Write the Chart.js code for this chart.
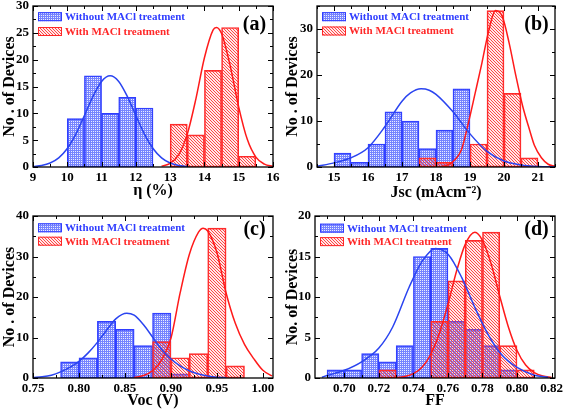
<!DOCTYPE html>
<html>
<head>
<meta charset="utf-8">
<script src="https://cdn.jsdelivr.net/npm/chart.js@4.4.0/dist/chart.umd.min.js"></script>
<style>
  html, body { margin: 0; padding: 0; background: #fff; }
  #wrap { position: relative; width: 567px; height: 411px; }
  .panel { position: absolute; }
</style>
</head>
<body>
<div id="wrap">
  <div class="panel" style="left:0;top:0;width:283px;height:205px"><canvas id="pa"></canvas></div>
  <div class="panel" style="left:283px;top:0;width:284px;height:205px"><canvas id="pb"></canvas></div>
  <div class="panel" style="left:0;top:205px;width:283px;height:206px"><canvas id="pc"></canvas></div>
  <div class="panel" style="left:283px;top:205px;width:284px;height:206px"><canvas id="pd"></canvas></div>
</div>
<script>
// ---- (a) efficiency ----
const effBinsWithout = [10.25, 10.75, 11.25, 11.75, 12.25];
const effCountWithout = [9, 17, 10, 13, 11];
const effBinsWith = [13.25, 13.75, 14.25, 14.75, 15.25];
const effCountWith = [8, 6, 18, 26, 2];
const effFitWithoutX = [9, 9.25, 9.5, 9.75, 10, 10.25, 10.5, 10.75, 11, 11.25, 11.5, 11.75, 12, 12.25, 12.5, 12.75, 13, 13.25, 13.5];
const effFitWithoutY = [0.1, 0.29, 0.75, 1.71, 3.45, 6.13, 9.58, 13.17, 15.95, 17, 15.95, 13.17, 9.58, 6.13, 3.45, 1.71, 0.75, 0.29, 0.1];
const effFitWithX = [12.75, 13, 13.25, 13.5, 13.75, 14, 14.25, 14.35, 14.5, 14.75, 15, 15.25, 15.5, 15.75, 16];
const effFitWithY = [0.16, 0.68, 2.31, 6.13, 12.66, 20.35, 25.5, 26, 24.86, 18.9, 11.17, 5.15, 1.85, 0.52, 0.11];
const effTicksX = [9, 10, 11, 12, 13, 14, 15, 16];
const effTicksY = [0, 5, 10, 15, 20, 25, 30];

// ---- (b) Jsc ----
const jscBinsWithout = [15.25, 15.75, 16.25, 16.75, 17.25, 17.75, 18.25, 18.75];
const jscCountWithout = [3, 1, 5, 12, 10, 4, 8, 17];
const jscBinsWith = [17.75, 18.25, 19.25, 19.75, 20.25, 20.75];
const jscCountWith = [2, 1, 5, 34, 16, 2];
const jscFitWithoutX = [14.5, 15, 15.5, 16, 16.5, 17, 17.25, 17.56, 17.8, 18, 18.5, 19, 19.5, 20, 20.5, 21, 21.5];
const jscFitWithoutY = [0.15, 0.9, 2.0, 4.2, 8.8, 14.3, 16.1, 17, 16.7, 15.8, 12, 7.2, 3.4, 1.3, 0.45, 0.12, 0.03];
const jscFitWithX = [18.1, 18.2, 18.45, 18.75, 18.95, 19.15, 19.35, 19.55, 19.75, 19.95, 20.15, 20.35, 20.55, 20.75, 20.9, 21.1, 21.3, 21.5];
const jscFitWithY = [0.05, 0.15, 0.9, 3.8, 9.5, 16, 22.6, 29.6, 34, 32.7, 27, 19.8, 13.2, 8.1, 4.6, 2.0, 0.6, 0.15];
const jscTicksX = [15, 16, 17, 18, 19, 20, 21];
const jscTicksY = [0, 10, 20, 30];

// ---- (c) Voc ----
const vocBinsWithout = [0.79, 0.81, 0.83, 0.85, 0.87, 0.89, 0.91];
const vocCountWithout = [4, 5, 14, 12, 8, 16, 1];
const vocBinsWith = [0.89, 0.91, 0.93, 0.95, 0.97];
const vocCountWith = [9, 5, 6, 37, 3];
const vocFitWithoutX = [0.75, 0.76, 0.77, 0.78, 0.79, 0.80, 0.81, 0.82, 0.83, 0.84, 0.852, 0.86, 0.87, 0.88, 0.89, 0.90, 0.91, 0.92, 0.93, 0.94, 0.95, 0.96];
const vocFitWithoutY = [0.1, 0.3, 0.7, 1.5, 2.6, 4.1, 6.2, 8.8, 11.8, 14.6, 16, 15.5, 13.2, 10.1, 7.0, 4.7, 3.0, 1.8, 1.0, 0.5, 0.2, 0.08];
const vocFitWithX = [0.86, 0.87, 0.88, 0.89, 0.90, 0.91, 0.92, 0.93, 0.935, 0.94, 0.95, 0.96, 0.97, 0.98, 0.99, 1.0, 1.01];
const vocFitWithY = [0.1, 0.6, 1.8, 4.5, 9.8, 21, 30.5, 36, 37, 36.3, 31, 21, 13.5, 8.3, 4.8, 1.9, 0.5];
const vocTicksX = [0.75, 0.80, 0.85, 0.90, 0.95, 1.00];
const vocTicksY = [0, 10, 20, 30, 40];

// ---- (d) FF ----
const ffBinsWithout = [0.695, 0.705, 0.715, 0.725, 0.735, 0.745, 0.755, 0.765, 0.775, 0.785, 0.795];
const ffCountWithout = [1, 1, 3, 2, 4, 15, 16, 7, 6, 4, 1];
const ffBinsWith = [0.725, 0.755, 0.765, 0.775, 0.785, 0.795, 0.805];
const ffCountWith = [1, 7, 12, 17, 18, 4, 1];
const ffFitWithoutX = [0.687, 0.69, 0.70, 0.71, 0.72, 0.728, 0.7375, 0.745, 0.7528, 0.7604, 0.768, 0.7756, 0.7832, 0.791, 0.80, 0.81, 0.818];
const ffFitWithoutY = [0.1, 0.3, 0.95, 2.0, 3.7, 6.3, 11.2, 14.4, 16, 15.2, 12.4, 8.7, 5.4, 2.9, 1.3, 0.35, 0.1];
const ffFitWithX = [0.725, 0.73, 0.735, 0.74, 0.745, 0.75, 0.755, 0.76, 0.765, 0.77, 0.7756, 0.78, 0.785, 0.79, 0.795, 0.80, 0.805, 0.81, 0.815, 0.82];
const ffFitWithY = [0.02, 0.06, 0.18, 0.53, 1.32, 2.9, 5.5, 9.1, 13.2, 16.5, 18, 17, 14.1, 10.1, 6.3, 3.4, 1.6, 0.66, 0.24, 0.07];
const ffTicksX = [0.70, 0.72, 0.74, 0.76, 0.78, 0.80, 0.82];
const ffTicksY = [0, 5, 10, 15, 20];

const legendLabels = ['Without MACl treatment', 'With MACl treatment'];

const BLUE = '#2f3dff';
const RED = '#ff2828';
const SERIF = '"Liberation Serif", "Times New Roman", serif';

function points(xs, ys) {
  return xs.map((x, i) => ({ x: x, y: ys[i] }));
}

function makePattern(kind) {
  const c = document.createElement('canvas');
  const g = c.getContext('2d');
  if (kind === 'check') {
    // fine blue grid with small light holes
    c.width = 2; c.height = 2;
    g.fillStyle = 'rgba(60,80,255,0.7)';
    g.fillRect(0, 0, 2, 2);
    g.clearRect(1, 1, 1, 1);
    g.fillStyle = 'rgba(170,180,255,0.25)';
    g.fillRect(1, 1, 1, 1);
  } else {
    c.width = 3; c.height = 3;
    g.fillStyle = 'rgba(255,140,140,0.2)';
    g.fillRect(0, 0, 3, 3);
    g.fillStyle = 'rgba(255,40,40,0.85)';
    for (let i = 0; i < 3; i++) g.fillRect(i, i, 1, 1);
  }
  return g.createPattern(c, 'repeat');
}

const bluePattern = makePattern('check');
const redPattern = makePattern('hatch');

/** ---------------- frame, inward ticks, legend, panel tag ---------------- **/
const panelDeco = {
  id: 'panelDeco',
  afterDraw(chart, args, opts) {
    const ctx = chart.ctx;
    const a = chart.chartArea;
    const xs = chart.scales.x, ys = chart.scales.y;

    function marks(scale) {
      const vals = scale.ticks.map(t => t.value);
      const step = vals[1] - vals[0];
      const out = vals.map(v => ({ v: v, len: 5 }));
      for (let v = vals[0] - step / 2; v <= scale.max + 1e-9; v += step) {
        if (v >= scale.min - 1e-9) out.push({ v: v, len: 3 });
      }
      return out;
    }
    function line(x1, y1, x2, y2) {
      ctx.beginPath(); ctx.moveTo(x1, y1); ctx.lineTo(x2, y2); ctx.stroke();
    }

    ctx.save();
    ctx.strokeStyle = '#000';
    ctx.lineWidth = 1;
    marks(xs).forEach(m => {
      const px = Math.round(xs.getPixelForValue(m.v)) + 0.5;
      line(px, a.bottom, px, a.bottom - m.len);
      line(px, a.top, px, a.top + m.len);
    });
    marks(ys).forEach(m => {
      const py = Math.round(ys.getPixelForValue(m.v)) + 0.5;
      line(a.left, py, a.left + m.len, py);
      line(a.right, py, a.right - m.len, py);
    });
    ctx.lineWidth = 1.3;
    ctx.strokeRect(a.left, a.top, a.right - a.left, a.bottom - a.top);

    // legend
    const rows = [
      { text: legendLabels[0], color: BLUE, fill: bluePattern },
      { text: legendLabels[1], color: RED, fill: redPattern }
    ];
    ctx.font = 'bold 11px ' + SERIF;
    ctx.textAlign = 'left';
    ctx.textBaseline = 'middle';
    rows.forEach((r, i) => {
      const y = opts.legendY[i];
      const bx = a.left + 5;
      ctx.fillStyle = '#fff';
      ctx.fillRect(bx, y - 4.5, 24, 9);
      ctx.fillStyle = r.fill;
      ctx.fillRect(bx, y - 4.5, 24, 9);
      ctx.strokeStyle = r.color;
      ctx.lineWidth = 1;
      ctx.strokeRect(bx + 0.5, y - 4, 23, 8);
      ctx.fillStyle = r.color;
      ctx.fillText(r.text, bx + 27, y + 0.5);
    });

    ctx.font = 'bold 20px ' + SERIF;
    ctx.fillStyle = '#000';
    ctx.textAlign = 'center';
    ctx.fillText(opts.tag, a.right - 18.5, 24.5);
    ctx.restore();
  }
};

function makePanel(id, p) {
  const tickFont = { family: SERIF, size: 13, weight: 'bold' };
  const titleFont = { family: SERIF, size: 16, weight: 'bold' };
  return new Chart(document.getElementById(id), {
    type: 'bar',
    data: {
      datasets: [
        { type: 'line', data: points(p.fitWithoutX, p.fitWithoutY), borderColor: '#2a44f0', borderWidth: 1.5,
          pointRadius: 0, cubicInterpolationMode: 'monotone', fill: false, order: 0 },
        { type: 'line', data: points(p.fitWithX, p.fitWithY), borderColor: '#ff1a1a', borderWidth: 1.5,
          pointRadius: 0, cubicInterpolationMode: 'monotone', fill: false, order: 0 },
        { data: points(p.binsWith, p.countWith), backgroundColor: redPattern, borderColor: RED, borderWidth: 1,
          borderSkipped: false, barPercentage: 1, categoryPercentage: 1, grouped: false, order: 1 },
        { data: points(p.binsWithout, p.countWithout), backgroundColor: bluePattern, borderColor: BLUE, borderWidth: 1,
          borderSkipped: false, barPercentage: 1, categoryPercentage: 1, grouped: false, order: 2 }
      ]
    },
    options: {
      responsive: true,
      maintainAspectRatio: false,
      animation: false,
      devicePixelRatio: 1,
      layout: { padding: { left: 0, top: p.top, right: p.right, bottom: 0 } },
      plugins: {
        legend: { display: false },
        tooltip: { enabled: false },
        panelDeco: { tag: p.tag, legendY: p.legendY }
      },
      scales: {
        x: {
          type: 'linear', min: p.xMin, max: p.xMax, offset: false,
          grid: { display: false, drawTicks: false },
          border: { display: false },
          afterBuildTicks: s => { s.ticks = p.ticksX.map(v => ({ value: v })); },
          afterFit: s => { s.height = p.xH; s.paddingLeft = 0; s.paddingRight = 0; },
          ticks: { font: tickFont, color: '#000', padding: 3, maxRotation: 0, autoSkip: false,
                   callback: v => p.fmtX(v) },
          title: { display: true, text: p.xTitle, font: titleFont, color: '#000',
                   padding: { top: 0, bottom: p.titlePad } }
        },
        y: {
          min: 0, max: p.yMax,
          grid: { display: false, drawTicks: false },
          border: { display: false },
          afterBuildTicks: s => { s.ticks = p.ticksY.map(v => ({ value: v })); },
          afterFit: s => { s.width = p.yW; s.paddingTop = 0; s.paddingBottom = 0; },
          ticks: { font: tickFont, color: '#000', padding: 4, autoSkip: false, callback: v => String(v) },
          title: { display: true, text: p.yTitle, font: titleFont, color: '#000',
                   padding: { top: 0, bottom: 0 } }
        }
      }
    },
    plugins: [panelDeco]
  });
}

makePanel('pa', {
  binsWithout: effBinsWithout, countWithout: effCountWithout, binsWith: effBinsWith, countWith: effCountWith,
  fitWithoutX: effFitWithoutX, fitWithoutY: effFitWithoutY, fitWithX: effFitWithX, fitWithY: effFitWithY,
  ticksX: effTicksX, ticksY: effTicksY, xMin: 9, xMax: 16, yMax: 30,
  fmtX: v => String(v), xTitle: 'η (%)', yTitle: 'No . of Devices', tag: '(a)',
  top: 6, right: 10, yW: 33, xH: 38, titlePad: 4.4, legendY: [16.7, 31.5]
});
makePanel('pb', {
  binsWithout: jscBinsWithout, countWithout: jscCountWithout, binsWith: jscBinsWith, countWith: jscCountWith,
  fitWithoutX: jscFitWithoutX, fitWithoutY: jscFitWithoutY, fitWithX: jscFitWithX, fitWithY: jscFitWithY,
  ticksX: jscTicksX, ticksY: jscTicksY, xMin: 14.5, xMax: 21.5, yMax: 35,
  fmtX: v => String(v), xTitle: 'Jsc (mAcm⁻²)', yTitle: 'No . of Devices', tag: '(b)',
  top: 6, right: 12, yW: 34, xH: 38, titlePad: 2.7, legendY: [16.7, 31]
});
makePanel('pc', {
  binsWithout: vocBinsWithout, countWithout: vocCountWithout, binsWith: vocBinsWith, countWith: vocCountWith,
  fitWithoutX: vocFitWithoutX, fitWithoutY: vocFitWithoutY, fitWithX: vocFitWithX, fitWithY: vocFitWithY,
  ticksX: vocTicksX, ticksY: vocTicksY, xMin: 0.75, xMax: 1.011, yMax: 40,
  fmtX: v => v.toFixed(2), xTitle: 'Voc (V)', yTitle: 'No . of Devices', tag: '(c)',
  top: 11, right: 10, yW: 33, xH: 33, titlePad: 0.4, legendY: [22.8, 36.2]
});
makePanel('pd', {
  binsWithout: ffBinsWithout, countWithout: ffCountWithout, binsWith: ffBinsWith, countWith: ffCountWith,
  fitWithoutX: ffFitWithoutX, fitWithoutY: ffFitWithoutY, fitWithX: ffFitWithX, fitWithY: ffFitWithY,
  ticksX: ffTicksX, ticksY: ffTicksY, xMin: 0.683, xMax: 0.822, yMax: 20,
  fmtX: v => v.toFixed(2), xTitle: 'FF', yTitle: 'No. of Devices', tag: '(d)',
  top: 11, right: 12, yW: 32, xH: 33, titlePad: 0.4, legendY: [23.2, 36.6]
});
</script>
</body>
</html>
